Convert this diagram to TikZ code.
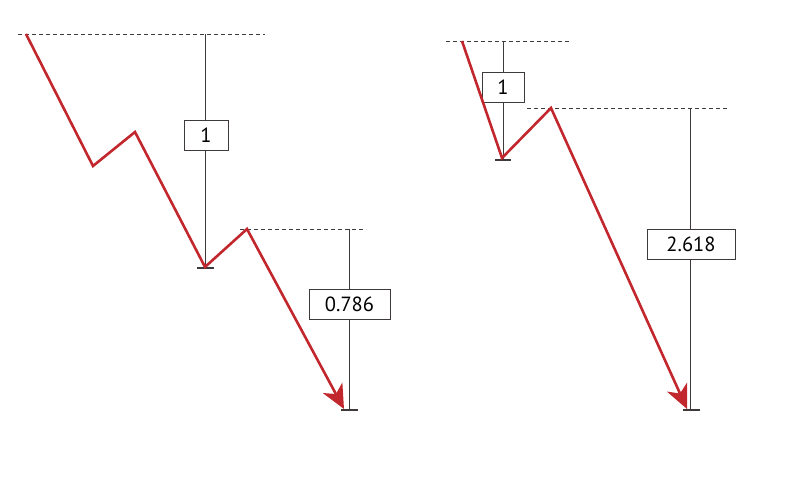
\documentclass[tikz,border=0pt]{standalone}
\usepackage{fontspec}
\setmainfont{PT Sans}
\usetikzlibrary{arrows.meta}
\definecolor{fibred}{HTML}{C1272D}
\definecolor{fibgray}{HTML}{3E3A3A}
\tikzset{
  wave/.style={draw=fibred, line width=2.6pt, line join=miter},
  waveend/.style={wave, -{Stealth[length=24pt, width=22pt, inset=7pt]}},
  level/.style={draw=fibgray, line width=0.9pt, dash pattern=on 4pt off 3pt},
  measure/.style={draw=fibgray, line width=1pt},
  tickmark/.style={draw=fibgray, line width=1.1pt},
  ratio/.style={draw=fibgray, line width=1pt, fill=white, minimum height=30pt, inner xsep=6pt, font=\fontsize{20.5}{22}\selectfont}
}
\begin{document}
\begin{tikzpicture}[x=1pt, y=-1pt]
\useasboundingbox (0,0) rectangle (800,487);
% ---- left pattern ----
\coordinate (LA) at (26,34);
\coordinate (LB) at (93,166);
\coordinate (LC) at (135,132);
\coordinate (LD) at (205,267);
\coordinate (LE) at (247,229);
\coordinate (LF) at (344,409);
\coordinate (LDl1) at (18,34);
\coordinate (LDr1) at (265,34);
\coordinate (LDl2) at (240,229);
\coordinate (LDr2) at (366,229);
\coordinate (LV1t) at (205,34);
\coordinate (LV1b) at (205,268);
\coordinate (LT1l) at (197,268);
\coordinate (LT1r) at (214,268);
\coordinate (LV2t) at (349,229);
\coordinate (LV2b) at (349,410);
\coordinate (LT2l) at (341,410);
\coordinate (LT2r) at (358,410);
\draw[level] (LDl1) -- (LDr1);
\draw[level] (LDl2) -- (LDr2);
\draw[measure] (LV1t) -- (LV1b);
\draw[tickmark] (LT1l) -- (LT1r);
\draw[measure] (LV2t) -- (LV2b);
\draw[tickmark] (LT2l) -- (LT2r);
\node[ratio, minimum width=44pt] (Lr1) at (206,135) {1};
\node[ratio, minimum width=81pt] (Lr2) at (349.5,304) {0.786};
\draw[waveend] (LA) -- (LB) -- (LC) -- (LD) -- (LE) -- (LF);
% ---- right pattern ----
\coordinate (RA) at (462,41);
\coordinate (RB) at (502,158);
\coordinate (RC) at (551,108);
\coordinate (RD) at (687,409);
\coordinate (RDl1) at (446,41);
\coordinate (RDr1) at (570,41);
\coordinate (RDl2) at (527,108);
\coordinate (RDr2) at (729,108);
\coordinate (RV1t) at (503,41);
\coordinate (RV1b) at (503,160);
\coordinate (RT1l) at (495,160);
\coordinate (RT1r) at (511,160);
\coordinate (RV2t) at (690,108);
\coordinate (RV2b) at (690,410);
\coordinate (RT2l) at (683,410);
\coordinate (RT2r) at (700,410);
\draw[level] (RDl1) -- (RDr1);
\draw[level] (RDl2) -- (RDr2);
\draw[measure] (RV1t) -- (RV1b);
\draw[tickmark] (RT1l) -- (RT1r);
\draw[measure] (RV2t) -- (RV2b);
\draw[tickmark] (RT2l) -- (RT2r);
\node[ratio, minimum width=42pt] (Rr1) at (503,87) {1};
\node[ratio, minimum width=88pt] (Rr2) at (691,244) {2.618};
\draw[waveend] (RA) -- (RB) -- (RC) -- (RD);
\end{tikzpicture}
\end{document}
